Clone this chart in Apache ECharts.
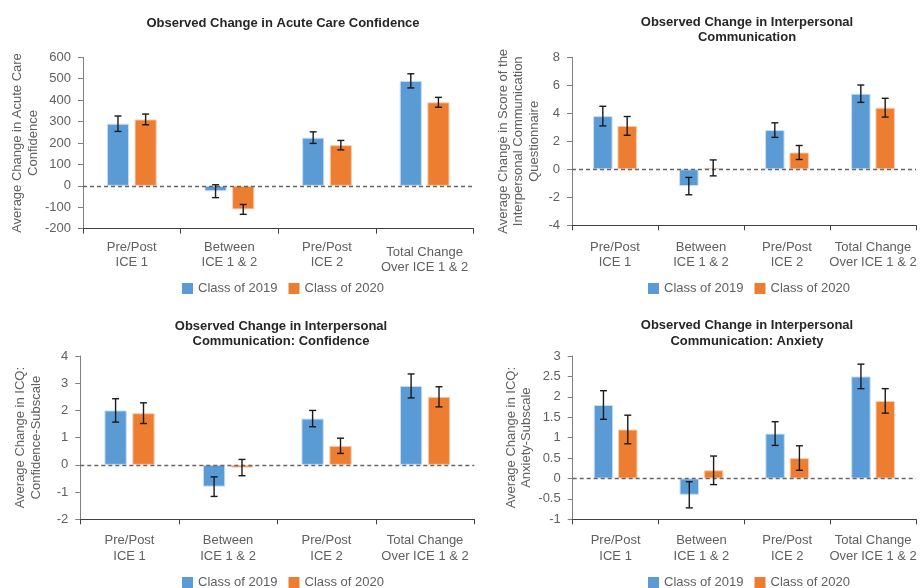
<!DOCTYPE html>
<html>
<head>
<meta charset="utf-8">
<script src="https://cdn.jsdelivr.net/npm/echarts@6/dist/echarts.min.js"></script>
<style>
html,body{margin:0;padding:0;background:#fff;}
#c{width:920px;height:588px;}
</style>
</head>
<body>
<div id="c"></div>
<script>
// ---- data ----
const categories = ['Pre/Post\nICE 1', 'Between\nICE 1 & 2', 'Pre/Post\nICE 2', 'Total Change\nOver ICE 1 & 2'];
const seriesNames = ['Class of 2019', 'Class of 2020'];

const acute2019 = [290, -25, 225, 490];
const acute2019Err = [36, 30, 27, 33];
const acute2020 = [310, -110, 190, 390];
const acute2020Err = [25, 23, 22, 23];

const comm2019 = [3.8, -1.2, 2.8, 5.4];
const comm2019Err = [0.7, 0.62, 0.52, 0.62];
const comm2020 = [3.1, 0.1, 1.2, 4.4];
const comm2020Err = [0.67, 0.57, 0.5, 0.67];

const conf2019 = [2.0, -0.8, 1.7, 2.9];
const conf2019Err = [0.43, 0.36, 0.3, 0.44];
const conf2020 = [1.9, -0.1, 0.7, 2.5];
const conf2020Err = [0.38, 0.3, 0.28, 0.37];

const anx2019 = [1.8, -0.4, 1.1, 2.5];
const anx2019Err = [0.35, 0.32, 0.29, 0.3];
const anx2020 = [1.2, 0.2, 0.5, 1.9];
const anx2020Err = [0.35, 0.35, 0.3, 0.3];

const titles = [
  'Observed Change in Acute Care Confidence',
  'Observed Change in Interpersonal\nCommunication',
  'Observed Change in Interpersonal\nCommunication: Confidence',
  'Observed Change in Interpersonal\nCommunication: Anxiety'
];
const yNames = [
  'Average Change in Acute Care\nConfidence',
  'Average Change in Score of the\nInterpersonal Communication\nQuestionnaire',
  'Average Change in ICQ:\nConfidence-Subscale',
  'Average Change in ICQ:\nAnxiety-Subscale'
];
const yMins = [-200, -4, -2, -1];
const yMaxs = [600, 8, 4, 3];
const yIntervals = [100, 2, 1, 0.5];

// ---- layout/style ----
const FONT = '"Liberation Sans", Arial, Helvetica, sans-serif';
const TXT = '#606060';
const BLUE = '#5B9BD5', ORANGE = '#ED7D31';
const CAT_GAP = 0.49, BAR_GAP = 0.25;

const panels = [
  {grid:{left:83, top:57.3, width:390.4, height:171.4}, title:{x:278, top:10.5}, legend:{left:177, top:277}, nameGap:37, labMargin:11, labLH:15},
  {grid:{left:572, top:57.3, width:344, height:168}, title:{x:742, top:9.5}, legend:{left:643, top:277}, nameGap:30, labMargin:15, labLH:15},
  {grid:{left:80.3, top:356, width:394, height:163.3}, title:{x:276, top:313.5}, legend:{left:177, top:571}, nameGap:36.5, labMargin:13, labLH:16},
  {grid:{left:572.7, top:356, width:343.3, height:163.3}, title:{x:742, top:313}, legend:{left:643, top:571}, nameGap:36.5, labMargin:13, labLH:16}
];

const dataSets = [
  [[acute2019, acute2019Err], [acute2020, acute2020Err]],
  [[comm2019, comm2019Err], [comm2020, comm2020Err]],
  [[conf2019, conf2019Err], [conf2020, conf2020Err]],
  [[anx2019, anx2019Err], [anx2020, anx2020Err]]
];

function errRender(idx) {
  return function (params, api) {
    const cat = api.value(0), v = api.value(1), e = api.value(2);
    const band = api.size([1, 0])[0];
    const usable = band * (1 - CAT_GAP);
    const bw = usable / (2 + BAR_GAP);
    const off = idx === 0 ? -usable / 2 + bw / 2 : usable / 2 - bw / 2;
    const top = api.coord([cat, v + e]);
    const bot = api.coord([cat, v - e]);
    const x = top[0] + off;
    const cap = 3.5;
    const st = {stroke: '#1a1a1a', lineWidth: 1.4};
    return {
      type: 'group',
      children: [
        {type: 'line', shape: {x1: x, y1: top[1], x2: x, y2: bot[1]}, style: st},
        {type: 'line', shape: {x1: x - cap, y1: top[1], x2: x + cap, y2: top[1]}, style: st},
        {type: 'line', shape: {x1: x - cap, y1: bot[1], x2: x + cap, y2: bot[1]}, style: st}
      ]
    };
  };
}

const option = {
  animation: false,
  backgroundColor: '#fff',
  textStyle: {fontFamily: FONT},
  title: [], legend: [], grid: [], xAxis: [], yAxis: [], series: []
};

panels.forEach((p, i) => {
  option.grid.push(Object.assign({containLabel: false}, p.grid));
  option.title.push({
    text: titles[i], left: p.title.x, top: p.title.top, textAlign: 'center',
    textStyle: {fontFamily: FONT, fontSize: 13, fontWeight: 'bold', color: '#262626', lineHeight: 15.5}
  });
  option.legend.push({
    data: seriesNames, left: p.legend.left, top: p.legend.top,
    itemWidth: 11, itemHeight: 11, itemGap: 11, icon: 'rect',
    itemStyle: {borderWidth: 0},
    textStyle: {fontFamily: FONT, fontSize: 13, color: TXT}
  });
  option.xAxis.push({
    type: 'category', gridIndex: i, data: categories,
    axisLine: {onZero: false, lineStyle: {color: '#404040', width: 1}},
    axisTick: {show: true, length: 5, lineStyle: {color: '#404040'}},
    axisLabel: {
      interval: 0, margin: p.labMargin, fontFamily: FONT, fontSize: 13, color: TXT, lineHeight: p.labLH,
      formatter: (i === 0) ? function (val, idx) {
        if (idx === 3) {
          const parts = val.split('\n');
          return '{s| }\n{b|' + parts[0] + '}\n{b|' + parts[1] + '}';
        }
        return val;
      } : null,
      rich: (i === 0) ? {
        s: {fontSize: 1, lineHeight: 5},
        b: {fontFamily: FONT, fontSize: 13, color: TXT, lineHeight: 15}
      } : undefined
    },
    splitLine: {show: false}
  });
  option.yAxis.push({
    type: 'value', gridIndex: i, min: yMins[i], max: yMaxs[i], interval: yIntervals[i],
    name: yNames[i], nameLocation: 'middle', nameRotate: 90, nameGap: p.nameGap,
    nameTextStyle: {fontFamily: FONT, fontSize: 13, color: TXT, lineHeight: 15.6},
    axisLine: {show: true, lineStyle: {color: '#808080', width: 1}},
    axisTick: {show: true, length: 5, lineStyle: {color: '#808080'}},
    axisLabel: {margin: 12, fontFamily: FONT, fontSize: 13, color: TXT},
    splitLine: {show: false}
  });
  const ds = dataSets[i];
  ds.forEach((pair, k) => {
    const s = {
      type: 'bar', name: seriesNames[k], xAxisIndex: i, yAxisIndex: i,
      data: pair[0],
      barCategoryGap: (CAT_GAP * 100) + '%', barGap: (BAR_GAP * 100) + '%',
      itemStyle: {color: k === 0 ? BLUE : ORANGE, borderColor: k === 0 ? '#c9def2' : '#f8cdb0', borderWidth: 1},
      emphasis: {disabled: true}
    };
    if (k === 0) {
      s.markLine = {
        silent: true, symbol: ['none', 'none'], label: {show: false},
        lineStyle: {type: [4, 3], color: '#666666', width: 1.3},
        data: [{yAxis: 0}]
      };
    }
    option.series.push(s);
  });
  ds.forEach((pair, k) => {
    option.series.push({
      type: 'custom', name: 'err' + i + k, xAxisIndex: i, yAxisIndex: i, z: 5,
      renderItem: errRender(k),
      data: pair[0].map((v, j) => [j, v, pair[1][j]])
    });
  });
});

const chart = echarts.init(document.getElementById('c'), null, {renderer: 'canvas'});
chart.setOption(option);
</script>
</body>
</html>
